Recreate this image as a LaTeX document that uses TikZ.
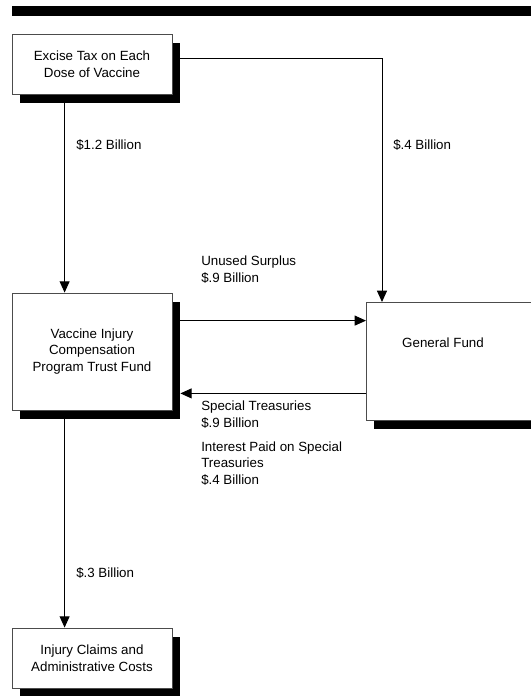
\documentclass[tikz,border=0pt]{standalone}
\usepackage{fontspec}
\setmainfont{Liberation Sans}
\usetikzlibrary{arrows.meta,shadows}
\begin{document}
\begin{tikzpicture}[x=0.75pt,y=-0.75pt,
    every node/.style={font=\fontsize{10}{12.5}\selectfont},
    box/.style={draw=black!70,line width=0.6pt,fill=white,align=center,
      drop shadow={shadow xshift=6pt,shadow yshift=-6.75pt,opacity=1,fill=black}},
    note/.style={align=left,inner sep=0pt,anchor=base west},
    arr/.style={-{Triangle[length=8.5pt,width=7.5pt]},line width=0.75pt}]
  \useasboundingbox (0,0) rectangle (531,696);
  \fill (12,6) rectangle (540,16);
  \node[box,minimum width=120pt,minimum height=45pt] (tax) at (92,64) {Excise Tax on Each\\Dose of Vaccine};
  \node[box,minimum width=120pt,minimum height=87.75pt] (trust) at (92,351.5) {Vaccine Injury\\Compensation\\Program Trust Fund};
  \node[box,minimum width=150pt,minimum height=88.5pt,anchor=north west] (gf) at (366,302) {};
  \node (gftext) at (443,343) {General Fund};
  \node[box,minimum width=120pt,minimum height=45pt] (claims) at (92,658) {Injury Claims and\\Administrative Costs};
  \coordinate (surplus) at ([xshift=6pt,yshift=-21pt]trust.north east);
  \coordinate (special) at ([xshift=6pt,yshift=12.75pt]trust.south east);
  \draw[arr] ([xshift=39.75pt,yshift=-6.75pt]tax.south west) -- ([xshift=39.75pt]trust.north west);
  \draw[arr] ([xshift=6pt,yshift=4.5pt]tax.east) -| ([xshift=12pt]gf.north west);
  \draw[arr] (surplus) -- (surplus -| gf.west);
  \draw[arr] (special -| gf.west) -- (special);
  \draw[arr] ([xshift=39.75pt,yshift=-6.75pt]trust.south west) -- ([xshift=39.75pt]claims.north west);
  \node[note] (taxamt) at (76,149.5) {\$1.2 Billion};
  \node[note] (gfamt) at (393,149.5) {\$.4 Billion};
  \node[note] (surplusamt) at (201,282.5) {Unused Surplus\\\$.9 Billion};
  \node[note] (specialamt) at (201,427.5) {Special Treasuries\\\$.9 Billion};
  \node[note] (interest) at (201,484.5) {Interest Paid on Special\\Treasuries\\\$.4 Billion};
  \node[note] (claimsamt) at (76,577.5) {\$.3 Billion};
\end{tikzpicture}
\end{document}
